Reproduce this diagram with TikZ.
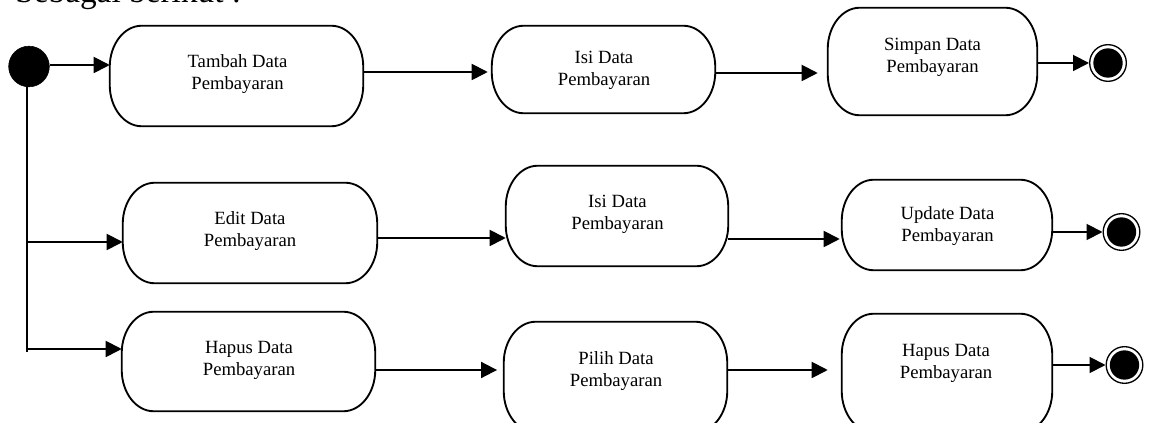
\documentclass[tikz,border=0pt]{standalone}
\usepackage{fontspec}
\setmainfont{Liberation Serif}
\usetikzlibrary{arrows.meta}
\newcommand{\actoutline}[1]{%
  \draw[boxline] ([xshift=24pt]#1.north west) -- ([xshift=-24pt]#1.north east)
    arc[start angle=90,end angle=0,x radius=24pt,y radius=31pt]
    -- ([yshift=31pt]#1.south east)
    arc[start angle=0,end angle=-90,x radius=24pt,y radius=31pt]
    -- ([xshift=24pt]#1.south west)
    arc[start angle=270,end angle=180,x radius=24pt,y radius=31pt]
    -- ([yshift=-31pt]#1.north west)
    arc[start angle=180,end angle=90,x radius=24pt,y radius=31pt]
    -- cycle;}
\begin{document}
\begin{tikzpicture}[x=0.75pt,y=-0.75pt,
  actbox/.style={draw=none,rectangle,inner sep=0pt},
  boxline/.style={draw=black,line width=1.4pt,fill=white},
  acttext/.style={align=center,inner sep=0pt,font=\fontsize{14}{16.5}\selectfont},
  flow/.style={line width=1.4pt,-{Triangle[length=12pt,width=12pt]}},
  plain/.style={line width=1.4pt},
  initst/.style={circle,fill=black,draw=black,minimum size=30.5pt,inner sep=0pt},
  finalst/.style={circle,draw=black,line width=1pt,fill=white,minimum size=27.5pt,inner sep=0pt,
    path picture={\fill[black] (path picture bounding box.center) circle (11pt);}}
]
\useasboundingbox (0,0) rectangle (1149,423);
% partly visible heading
\node[anchor=base west,inner sep=0pt,font=\fontsize{25}{30}\selectfont] (head) at (15,3) {Sebagai berikut :};

% initial node
\node[initst] (start) at (29,66.5) {};

% boxes
\node[actbox,minimum width=189.75pt,minimum height=75pt] (tambah) at (236.5,76) {};
\node[actbox,minimum width=167.25pt,minimum height=65.25pt] (isiA) at (603.5,69.5) {};
\node[actbox,minimum width=156.75pt,minimum height=80.25pt] (simpan) at (932.5,61.5) {};
\node[actbox,minimum width=190.5pt,minimum height=75pt] (edit) at (250,233) {};
\node[actbox,minimum width=166.5pt,minimum height=75pt] (isiB) at (617,216) {};
\node[actbox,minimum width=157.5pt,minimum height=67.5pt] (update) at (947,225) {};
\node[actbox,minimum width=189.75pt,minimum height=74.25pt] (hapusA) at (248.5,361.5) {};
\node[actbox,minimum width=167.25pt,minimum height=82.5pt] (pilih) at (615.5,377) {};
\node[actbox,minimum width=157.5pt,minimum height=88.5pt] (hapusB) at (947,373) {};
\actoutline{tambah}
\actoutline{isiA}
\actoutline{simpan}
\actoutline{edit}
\actoutline{isiB}
\actoutline{update}
\actoutline{hapusA}
\actoutline{pilih}
\actoutline{hapusB}

% texts
\node[acttext] (tTambah) at (237.5,74) {Tambah Data\\Pembayaran};
\node[acttext] (tIsiA) at (604,70) {Isi Data\\Pembayaran};
\node[acttext] (tSimpan) at (932.5,57) {Simpan Data\\Pembayaran};
\node[acttext] (tEdit) at (250,231) {Edit Data\\Pembayaran};
\node[acttext] (tIsiB) at (617.5,214) {Isi Data\\Pembayaran};
\node[acttext] (tUpdate) at (947.5,226) {Update Data\\Pembayaran};
\node[acttext] (tHapusA) at (249,360) {Hapus Data\\Pembayaran};
\node[acttext] (tPilih) at (616,371) {Pilih Data\\Pembayaran};
\node[acttext] (tHapusB) at (946,363) {Hapus Data\\Pembayaran};

% final nodes
\node[finalst] (endA) at (1108,63) {};
\node[finalst] (endB) at (1121.5,232) {};
\node[finalst] (endC) at (1124.5,365) {};

% junctions
\coordinate (j1) at (27,242);
\coordinate (j2) at (27,349);
\coordinate (jend) at (27,352);

% connectors
\draw[plain] (start.center -| j1) -- (jend);
\draw[flow] (start.east |- 0,65) -- (tambah.west |- 0,65);
\draw[flow] (j1) -- (edit.west |- j1);
\draw[flow] (j2) -- (hapusA.west |- j2);

\draw[flow,shorten >=3pt] (tambah.east |- 0,72) -- (isiA.west |- 0,72);
\draw[flow,shorten >=7.5pt] (isiA.east |- 0,73) -- (simpan.west |- 0,73);
\draw[flow] (simpan.east |- 0,63) -- (endA.west);

\draw[flow] (edit.east |- 0,238) -- (isiB.west |- 0,238);
\draw[flow,shorten >=1.5pt] (isiB.east |- 0,239) -- (update.west |- 0,239);
\draw[flow] (update.east |- 0,232) -- (endB.west);

\draw[flow,shorten >=5pt] (hapusA.east |- 0,370) -- (pilih.west |- 0,370);
\draw[flow,shorten >=10.5pt] (pilih.east |- 0,370) -- (hapusB.west |- 0,370);
\draw[flow] (hapusB.east |- 0,365) -- (endC.west);
\end{tikzpicture}
\end{document}
